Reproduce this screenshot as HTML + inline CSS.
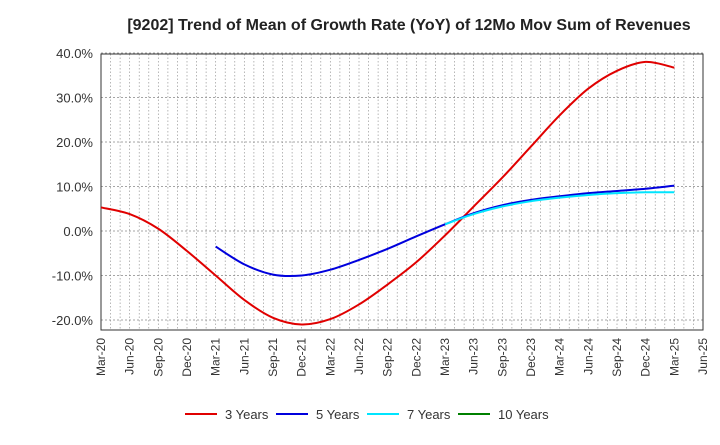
<!DOCTYPE html>
<html><head><meta charset="utf-8"><style>
body{margin:0;background:#fff;font-family:"Liberation Sans",Arial,sans-serif}
svg text{font-family:"Liberation Sans",Arial,sans-serif}
</style></head><body>
<svg id="c" width="720" height="440" viewBox="0 0 720 440">
<text x="409" y="30" text-anchor="middle" font-size="16" font-weight="bold" fill="#222">[9202]  Trend of Mean of Growth Rate (YoY) of 12Mo Mov Sum of Revenues</text>
<g id="grid"></g><g id="axes"></g><g id="series"></g><g id="legend"></g>
</svg>
<script>
const xLabels=["Mar-20","Jun-20","Sep-20","Dec-20","Mar-21","Jun-21","Sep-21","Dec-21","Mar-22","Jun-22","Sep-22","Dec-22","Mar-23","Jun-23","Sep-23","Dec-23","Mar-24","Jun-24","Sep-24","Dec-24","Mar-25","Jun-25"];
const yTicks=[40,30,20,10,0,-10,-20];
const s3=[5.3,3.8,0.5,-4.5,-10,-15.5,-19.5,-21,-19.8,-16.5,-12,-7,-1,5.5,12,19,26,32,36,38,36.7];
const s3Start=0;
const s5=[-3.5,-7.5,-9.8,-10,-8.7,-6.5,-4,-1.2,1.5,4,5.8,7,7.8,8.5,9,9.5,10.2];
const s5Start=4;
const s7=[1.5,3.8,5.5,6.7,7.5,8.1,8.5,8.7,8.7];
const s7Start=12;
const s10=[];
const s10Start=0;
const L=101,R=703,T=54,B=330;
const x=q=>L+(R-L)*q/21;
const y=v=>231-v*4.45;
const NS="http://www.w3.org/2000/svg";
function mk(t,a,p){const e=document.createElementNS(NS,t);for(const k in a)e.setAttribute(k,a[k]);p.appendChild(e);return e;}
const g=document.getElementById('grid'),ax=document.getElementById('axes'),se=document.getElementById('series'),lg=document.getElementById('legend');
for(let m=1;m<63;m++){const xx=L+(R-L)*m/63;const l=mk('line',{x1:xx,x2:xx,y1:T,y2:B,stroke:'#999','stroke-width':0.7,'stroke-dasharray':'1.5,2'},g);

}
yTicks.forEach(v=>{const l=mk('line',{x1:L,x2:R,y1:y(v),y2:y(v),stroke:'#888','stroke-width':0.8,'stroke-dasharray':'2,2'},g);


const t=mk('text',{x:L-8,y:y(v)+5,'text-anchor':'end','font-size':13,fill:'#333'},ax);t.textContent=v.toFixed(1)+'%';

});
const fr=mk('rect',{x:L,y:T,width:R-L,height:B-T,fill:'none',stroke:'#333','stroke-width':1},ax);


xLabels.forEach((s,i)=>{const t=mk('text',{transform:`translate(${x(i)+4},${B+8}) rotate(-90)`,'text-anchor':'end','font-size':12,fill:'#333'},ax);t.textContent=s;

});
function path(arr,st){const p=arr.map((v,i)=>[x(st+i),y(v)]);if(p.length<2)return'';let d=`M${p[0][0]},${p[0][1]}`;
for(let i=0;i<p.length-1;i++){const p0=p[Math.max(0,i-1)],p1=p[i],p2=p[i+1],p3=p[Math.min(p.length-1,i+2)];
d+=` C${p1[0]+(p2[0]-p0[0])/6},${p1[1]+(p2[1]-p0[1])/6} ${p2[0]-(p3[0]-p1[0])/6},${p2[1]-(p3[1]-p1[1])/6} ${p2[0]},${p2[1]}`;}return d;}
const S=[[s3,s3Start,'#e00000','3 Years','line-3-years'],[s5,s5Start,'#0000dd','5 Years','line-5-years'],[s7,s7Start,'#00e5ff','7 Years','line-7-years'],[s10,s10Start,'#008000','10 Years','line-10-years']];
S.forEach(([a,st,c,n,dn],i)=>{const d=path(a,st);if(d){const p=mk('path',{d,fill:'none',stroke:c,'stroke-width':2},se);

}
const lx=[185,276,367,458][i];
const gi=mk('g',{},lg);


mk('line',{x1:lx,x2:lx+32,y1:414,y2:414,stroke:c,'stroke-width':2},gi);
const t=mk('text',{x:lx+40,y:419,'font-size':13,fill:'#333'},gi);t.textContent=n;});
</script>
</body></html>
